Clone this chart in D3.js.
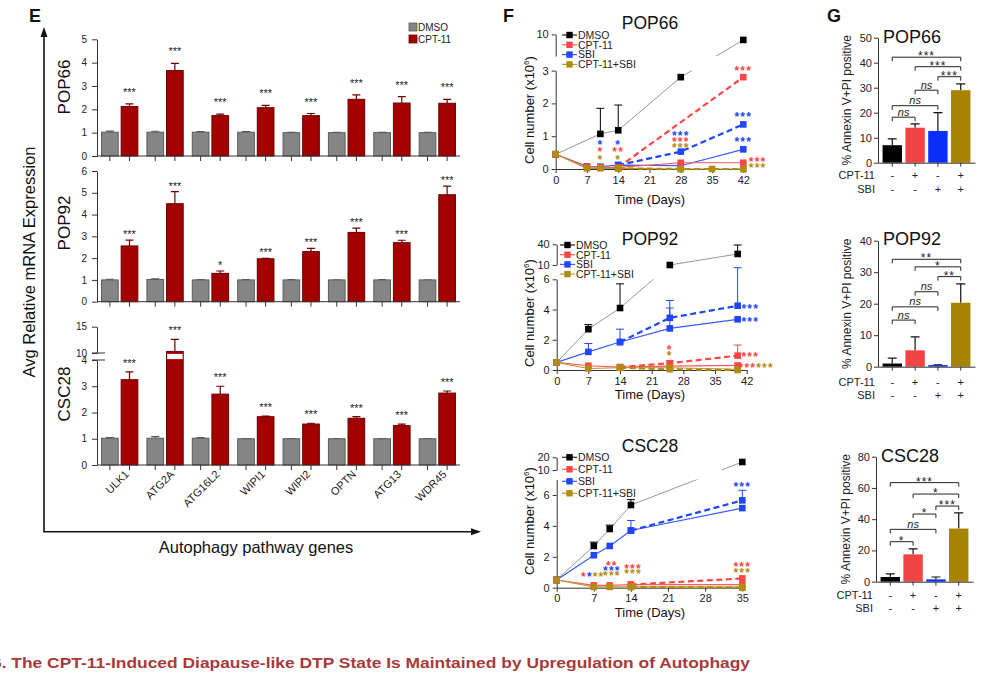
<!DOCTYPE html>
<html><head><meta charset="utf-8">
<script src="https://cdn.jsdelivr.net/npm/d3@7"></script>
<style>body{margin:0;background:#fff}svg{display:block}</style>
</head><body><svg id="c" width="1000" height="676"></svg>
<script>
// ================= DATA =================
// ---- Panel E: Avg relative mRNA expression ----
const genes = ["ULK1","ATG2A","ATG16L2","WIPI1","WIPI2","OPTN","ATG13","WDR45"];
const eGroups = ["DMSO","CPT-11"];
const ePOP66_DMSO     = [1.02,1.02,1.02,1.02,1.0,1.0,1.0,1.0];
const ePOP66_DMSO_err = [1.07,1.06,1.05,1.05,1.01,1.01,1.01,1.01];
const ePOP66_CPT      = [2.12,3.66,1.73,2.07,1.73,2.43,2.27,2.26];
const ePOP66_CPT_err  = [2.23,3.97,1.79,2.17,1.82,2.62,2.54,2.43];
const ePOP66_stars    = ["***","***","***","***","***","***","***","***"];
const ePOP92_DMSO     = [1.0,1.02,1.0,1.0,1.0,1.0,1.0,1.0];
const ePOP92_DMSO_err = [1.03,1.05,1.02,1.01,1.01,1.0,1.01,1.0];
const ePOP92_CPT      = [2.56,4.5,1.3,1.97,2.3,3.18,2.71,4.91];
const ePOP92_CPT_err  = [2.83,5.05,1.41,1.99,2.45,3.38,2.82,5.31];
const ePOP92_stars    = ["***","***","*","***","***","***","***","***"];
const eCSC28_DMSO     = [1.02,1.02,1.02,1.0,1.0,1.0,1.0,1.0];
const eCSC28_DMSO_err = [1.04,1.08,1.04,1.01,1.01,1.01,1.01,1.01];
const eCSC28_CPT      = [3.25,10.3,2.7,1.84,1.56,1.78,1.5,2.74];
const eCSC28_CPT_err  = [3.55,12.6,3.0,1.86,1.59,1.84,1.56,2.82];
const eCSC28_stars    = ["***","***","***","***","***","***","***","***"];

// ---- Panel F: cell number (x10^6) over time ----
const fNames = ["DMSO","CPT-11","SBI","CPT-11+SBI"];
const fPOP66_DMSO   = {days:[0,10,14,28,42], vals:[0.45,1.07,1.18,2.8,8.7], err:[null,1.85,1.95,null,null]};
const fPOP66_CPT    = {days:[0,7,10,14,28,42], vals:[0.45,0.07,0.05,0.05,0.19,0.19]};
const fPOP66_CPT_d  = {days:[14,42], vals:[0.05,2.8]};
const fPOP66_SBI    = {days:[0,7,10,14,28,42], vals:[0.45,0.08,0.07,0.12,0.1,0.6]};
const fPOP66_SBI_d  = {days:[14,28,42], vals:[0.12,0.53,1.36]};
const fPOP66_CS     = {days:[0,7,10,14,28,42], vals:[0.45,0.02,0.02,0.02,0.0,0.0]};
const fPOP66_CS_d   = {days:[14,28,35,42], vals:[0.02,0.0,0.0,0.0]};
const fPOP66_stars  = [
  {day:10,v:0.82,parts:[["*","SBI"]]},{day:10,v:0.61,parts:[["*","CPT-11"]]},{day:10,v:0.37,parts:[["*","CPT-11+SBI"]]},
  {day:14,v:0.82,parts:[["*","SBI"]]},{day:14,v:0.61,parts:[["**","CPT-11"]]},{day:14,v:0.37,parts:[["*","CPT-11+SBI"]]},
  {day:28,v:1.1,parts:[["***","SBI"]]},{day:28,v:0.91,parts:[["***","CPT-11"]]},{day:28,v:0.73,parts:[["***","CPT-11+SBI"]]},
  {day:42,v:3.08,parts:[["***","CPT-11"]]},{day:42,v:1.68,parts:[["***","SBI"]]},{day:42,v:0.91,parts:[["***","SBI"]]},
  {day:45.2,v:0.3,parts:[["***","CPT-11"]]},{day:45.2,v:0.12,parts:[["***","CPT-11+SBI"]]}
];
const fPOP92_DMSO   = {days:[0,7,14,25,40], vals:[0.5,2.7,4.1,10,26], err:[null,3.0,5.7,null,39]};
const fPOP92_CPT    = {days:[0,7,14,25,40], vals:[0.5,0.28,0.19,0.25,0.3]};
const fPOP92_CPT_d  = {days:[14,25,40], vals:[0.19,0.45,0.95], err:[null,0.6,1.65]};
const fPOP92_SBI    = {days:[0,7,14,25,40], vals:[0.5,1.2,1.85,2.75,3.35], err:[null,1.75,2.7,4.1,null]};
const fPOP92_SBI_d  = {days:[14,25,40], vals:[1.85,3.45,4.25], err:[null,4.6,6.05]};
const fPOP92_CS     = {days:[0,7,14,25,40], vals:[0.5,0.1,0.15,0.15,0.05]};
const fPOP92_CS_d   = {days:[14,25,40], vals:[0.15,0.05,0.0]};
const fPOP92_stars  = [
  {day:25,v:1.54,parts:[["*","CPT-11"]]},{day:25,v:1.13,parts:[["*","CPT-11+SBI"]]},
  {day:42.8,v:4.24,parts:[["***","SBI"]]},{day:42.8,v:3.36,parts:[["***","SBI"]]},
  {day:42.8,v:1.06,parts:[["***","CPT-11"]]},{day:44.1,v:0.33,parts:[["***","CPT-11"],["***","CPT-11+SBI"]]}
];
const fCSC28_DMSO   = {days:[0,7,10,14,35], vals:[0.5,2.7,3.8,5.35,16.3], err:[null,2.95,4.05,5.7,null]};
const fCSC28_CPT    = {days:[0,7,10,14,35], vals:[0.5,0.15,0.15,0.2,0.2]};
const fCSC28_CPT_d  = {days:[14,35], vals:[0.2,0.6]};
const fCSC28_SBI    = {days:[0,7,10,14,35], vals:[0.5,2.1,2.7,3.7,5.15], err:[null,null,null,4.35,null]};
const fCSC28_SBI_d  = {days:[14,35], vals:[3.7,5.65], err:[null,6.3]};
const fCSC28_CS     = {days:[0,7,10,14,35], vals:[0.5,0.05,0.05,0.05,0.05]};
const fCSC28_CS_d   = {days:[14,35], vals:[0.05,0.0]};
const fCSC28_stars  = [
  {day:6.8,v:0.88,parts:[["*","CPT-11"],["*","SBI"],["**","CPT-11+SBI"]]},
  {day:10.4,v:1.6,parts:[["**","CPT-11"]]},{day:10.4,v:1.27,parts:[["***","SBI"]]},{day:10.4,v:0.95,parts:[["***","CPT-11+SBI"]]},
  {day:14.4,v:1.4,parts:[["***","CPT-11"]]},{day:14.4,v:1.08,parts:[["***","CPT-11+SBI"]]},
  {day:35,v:6.7,parts:[["***","SBI"]]},{day:35,v:1.53,parts:[["***","CPT-11"]]},{day:35,v:1.17,parts:[["***","CPT-11+SBI"]]}
];

// ---- Panel G: % Annexin V+PI positive ----
const gCPT = ["-","+","-","+"];
const gSBI = ["-","-","+","+"];
const gPOP66_vals = [7,14,12.7,29];
const gPOP66_err  = [9.5,15.5,20,31.5];
const gPOP66_brk  = [[0,3,42.2,"***"],[1,3,38.4,"***"],[2,3,34.4,"***"],[1,2,29,"ns"],[0,2,22.8,"ns"],[0,1,18.2,"ns"]];
const gPOP92_vals = [1,5.2,0.5,20.3];
const gPOP92_err  = [2.7,9.5,0.6,26.3];
const gPOP92_brk  = [[0,3,34.1,"**"],[1,3,31.7,"*"],[2,3,28.6,"**"],[1,2,23.8,"ns"],[0,2,19,"ns"],[0,1,14.8,"ns"]];
const gCSC28_vals = [3,17.5,1.5,34];
const gCSC28_err  = [5,21,3,44];
const gCSC28_brk  = [[0,3,63.4,"***"],[1,3,56.1,"*"],[2,3,48.4,"***"],[1,2,43.3,"*"],[0,2,33.5,"ns"],[0,1,25.6,"*"]];

// ================= DRAWING =================
const FONT = "'Liberation Sans', Arial, Helvetica, sans-serif";
const svg = d3.select("#c").attr("font-family", FONT);
const defs = svg.append("defs");
const fmt = d3.format("~g");
const fColors = {"DMSO":"#000000","CPT-11":"#ff4545","SBI":"#1f45ff","CPT-11+SBI":"#b08d12"};
const fLine   = {"DMSO":"#8a8a8a","CPT-11":"#ff5a5a","SBI":"#3a5cff","CPT-11+SBI":"#b99a30"};
const gColors = ["#000000","#f24444","#0a2df7","#a78300"];

function styleAxis(sel, fs){
  sel.attr("font-family", FONT).attr("font-size", fs);
  sel.selectAll("path.domain").attr("stroke","#333").attr("stroke-width",1);
  sel.selectAll(".tick line").attr("stroke","#333");
  sel.selectAll(".tick text").attr("fill","#222");
}

// ---------- Panel E ----------
svg.append("text").attr("x",29).attr("y",22).attr("font-size",18).attr("font-weight","bold").attr("fill","#111").text("E");
svg.append("path").attr("d","M44,532V34").attr("stroke","#111").attr("stroke-width",1.6);
svg.append("path").attr("d","M44,27L40.5,37L47.5,37Z").attr("fill","#111");
svg.append("path").attr("d","M43.2,531.7H474").attr("stroke","#111").attr("stroke-width",1.6);
svg.append("path").attr("d","M481,531.7L471,528.2L471,535.2Z").attr("fill","#111");
svg.append("text").attr("transform","translate(35,262) rotate(-90)").attr("text-anchor","middle")
  .attr("font-size",16.5).attr("fill","#111").text("Avg Relative mRNA Expression");
svg.append("text").attr("x",256).attr("y",553).attr("text-anchor","middle")
  .attr("font-size",16.5).attr("fill","#111").text("Autophagy pathway genes");
const eLeg = svg.append("g").selectAll("g").data(eGroups).join("g");
eLeg.append("rect").attr("x",409).attr("y",(d,i)=>23+i*12).attr("width",8).attr("height",8)
  .attr("fill",d=>d==="DMSO"?"#858585":"#a30000").attr("stroke",d=>d==="DMSO"?"#5c5c5c":"#6e0000").attr("stroke-width",0.8);
eLeg.append("text").attr("x",418).attr("y",(d,i)=>31+i*12).attr("font-size",10).attr("fill","#222").text(d=>d);

function drawE(cfg){
  const g = svg.append("g");
  const x0 = d3.scaleBand().domain(genes).range([97,460]).paddingInner(0.2).paddingOuter(0.1);
  const x1 = d3.scaleBand().domain(eGroups).range([0,x0.bandwidth()]).paddingInner(0.15);
  const sc = cfg.scales.map(s=>d3.scaleLinear().domain(s.domain).range(s.range));
  const lo = cfg.scales[0].domain[1];
  const y = v => (sc.length===1 || v<=lo) ? sc[0](v) : sc[1](v);
  const base = y(0);
  const rows = [];
  genes.forEach((gn,i)=>{
    rows.push({gene:gn,grp:"DMSO",v:cfg.dmso[i],e:cfg.dmsoErr[i]});
    rows.push({gene:gn,grp:"CPT-11",v:cfg.cpt[i],e:cfg.cptErr[i],star:cfg.stars[i]});
  });
  const cx = d => x0(d.gene)+x1(d.grp)+x1.bandwidth()/2;
  g.selectAll(".eb").data(rows).join("path")
    .attr("d",d=>`M${cx(d)},${y(d.v)}V${y(d.e)}M${cx(d)-4},${y(d.e)}H${cx(d)+4}`)
    .attr("stroke",d=>d.grp==="DMSO"?"#555":"#6e0000").attr("stroke-width",1.2).attr("fill","none");
  g.selectAll(".bar").data(rows).join("rect")
    .attr("x",d=>x0(d.gene)+x1(d.grp)).attr("width",x1.bandwidth())
    .attr("y",d=>y(d.v)).attr("height",d=>base-y(d.v))
    .attr("fill",d=>d.grp==="DMSO"?"#858585":"#a30000")
    .attr("stroke",d=>d.grp==="DMSO"?"#5c5c5c":"#6e0000").attr("stroke-width",1);
  if(sc.length>1){
    const up0 = cfg.scales[1].domain[0];
    g.selectAll(".brk").data(rows.filter(d=>d.v>lo)).join("rect")
      .attr("x",d=>x0(d.gene)+x1(d.grp)+0.6).attr("width",x1.bandwidth()-1.2)
      .attr("y",sc[1](up0)+0.9).attr("height",sc[0](lo)-sc[1](up0)-1.8).attr("fill","#fff");
  }
  sc.forEach((s,k)=>{
    g.append("g").attr("transform","translate(97,0)")
      .call(d3.axisLeft(s).tickValues(cfg.scales[k].ticks).tickFormat(fmt).tickSize(5).tickSizeOuter(0).tickPadding(5))
      .call(a=>styleAxis(a,10));
  });
  if(sc.length>1){
    g.selectAll(".bm").data([sc[1](cfg.scales[1].domain[0]), sc[0](lo)]).join("path")
      .attr("d",d=>`M92,${d}H105`).attr("stroke","#333");
  }
  g.append("path").attr("d",`M97,${base}H460`).attr("stroke","#333");
  g.selectAll(".xt").data(rows).join("path").attr("d",d=>`M${cx(d)},${base}v5`).attr("stroke","#333");
  g.selectAll(".st").data(rows.filter(d=>d.star)).join("text")
    .attr("x",cx).attr("y",d=>y(d.e)-cfg.gap+6).attr("text-anchor","middle")
    .attr("font-size",11).attr("fill","#222").text(d=>d.star);
  g.append("text").attr("transform",`translate(70,${cfg.labelY}) rotate(-90)`).attr("text-anchor","middle")
    .attr("font-size",17).attr("fill","#111").text(cfg.name);
  if(cfg.showGenes){
    g.selectAll(".gl").data(genes).join("text")
      .attr("transform",d=>`translate(${x0(d)+x0.bandwidth()/2+10},${base+10}) rotate(-45)`)
      .attr("text-anchor","end").attr("font-size",11).attr("fill","#222").text(d=>d);
  }
}
drawE({name:"POP66",dmso:ePOP66_DMSO,dmsoErr:ePOP66_DMSO_err,cpt:ePOP66_CPT,cptErr:ePOP66_CPT_err,stars:ePOP66_stars,
  scales:[{domain:[0,5],range:[156,39.3],ticks:[0,1,2,3,4,5]}],labelY:87,gap:14});
drawE({name:"POP92",dmso:ePOP92_DMSO,dmsoErr:ePOP92_DMSO_err,cpt:ePOP92_CPT,cptErr:ePOP92_CPT_err,stars:ePOP92_stars,
  scales:[{domain:[0,6],range:[301.7,171],ticks:[0,1,2,3,4,5,6]}],labelY:223,gap:8});
drawE({name:"CSC28",dmso:eCSC28_DMSO,dmsoErr:eCSC28_DMSO_err,cpt:eCSC28_CPT,cptErr:eCSC28_CPT_err,stars:eCSC28_stars,
  scales:[{domain:[0,4],range:[465,360],ticks:[0,1,2,3,4]},{domain:[10,15],range:[353,326.7],ticks:[10,15]}],labelY:394,gap:11,showGenes:true});

// ---------- Panel F ----------
svg.append("text").attr("x",503).attr("y",22).attr("font-size",18).attr("font-weight","bold").attr("fill","#111").text("F");

function drawF(cfg){
  const g = svg.append("g");
  const x = d3.scaleLinear().domain([0,cfg.xMax]).range(cfg.xRange);
  const yL = d3.scaleLinear().domain(cfg.lowDomain).range(cfg.lowRange);
  const yU = d3.scaleLinear().domain(cfg.upDomain).range(cfg.upRange);
  const y = v => v<=cfg.lowDomain[1] ? yL(v) : yU(v);
  const cid = "clipF"+cfg.title;
  const cp = defs.append("clipPath").attr("id",cid);
  const cx0 = cfg.xRange[0]-15;
  cp.append("rect").attr("x",cx0).attr("y",cfg.upRange[1]-25).attr("width",250).attr("height",cfg.upRange[0]-cfg.upRange[1]+25);
  cp.append("rect").attr("x",cx0).attr("y",cfg.lowRange[1]).attr("width",250).attr("height",cfg.lowRange[0]-cfg.lowRange[1]+15);
  const ax0 = cfg.xRange[0];
  g.append("g").attr("transform",`translate(${ax0},0)`)
    .call(d3.axisLeft(yL).tickValues(cfg.lowTicks).tickFormat(fmt).tickSize(4).tickSizeOuter(0).tickPadding(3)).call(a=>styleAxis(a,11));
  g.append("g").attr("transform",`translate(${ax0},0)`)
    .call(d3.axisLeft(yU).tickValues(cfg.upTicks).tickFormat(fmt).tickSize(4).tickSizeOuter(0).tickPadding(3)).call(a=>styleAxis(a,11));
  g.append("g").attr("transform",`translate(0,${cfg.lowRange[0]})`)
    .call(d3.axisBottom(x).tickValues(cfg.xTicks).tickFormat(fmt).tickSize(4).tickSizeOuter(0).tickPadding(3)).call(a=>styleAxis(a,11));

  const pg = g.append("g").attr("clip-path",`url(#${cid})`);
  const line = d3.line().x(d=>x(d.day)).y(d=>y(d.v));
  const sets = [];
  cfg.series.forEach(s=>{
    [["solid",s.solid],["dashed",s.dashed]].forEach(([kind,ser])=>{
      if(!ser) return;
      sets.push({name:s.name,kind,pts:ser.days.map((d,i)=>({day:d,v:ser.vals[i],e:ser.err?ser.err[i]:null}))});
    });
  });
  pg.selectAll(".ln").data(sets).join("path").attr("d",d=>line(d.pts)).attr("fill","none")
    .attr("stroke",d=>d.kind==="solid"?fLine[d.name]:fColors[d.name])
    .attr("stroke-width",d=>d.kind==="solid"?(d.name==="DMSO"?0.9:1.2):2.2)
    .attr("stroke-dasharray",d=>d.kind==="dashed"?"6,3.5":null);
  const pts = sets.flatMap(s=>s.pts.map(p=>({...p,name:s.name})));
  const mg = g.append("g");
  mg.selectAll(".er").data(pts.filter(p=>p.e!=null)).join("path")
    .attr("d",p=>`M${x(p.day)},${y(p.v)}V${y(p.e)}M${x(p.day)-4},${y(p.e)}H${x(p.day)+4}`)
    .attr("stroke",p=>fColors[p.name]).attr("stroke-width",1).attr("fill","none");
  mg.selectAll(".mk").data(pts).join("rect")
    .attr("x",p=>x(p.day)-3.3).attr("y",p=>y(p.v)-3.3).attr("width",6.6).attr("height",6.6)
    .attr("fill",p=>fColors[p.name]);
  cfg.stars.forEach(st=>{
    const t = g.append("text").attr("x",x(st.day)).attr("y",yL(st.v)+7).attr("text-anchor","middle")
      .attr("font-size",12).attr("font-weight","bold").attr("letter-spacing",1.2);
    st.parts.forEach(([txt,nm])=>t.append("tspan").attr("fill",fColors[nm]).text(txt));
  });
  const lg = g.append("g").selectAll("g").data(fNames).join("g")
    .attr("transform",(d,i)=>`translate(${cfg.legendX},${cfg.legendY+i*cfg.legendStep})`);
  lg.append("path").attr("d","M0,0H15").attr("stroke",d=>d==="DMSO"?"#222":fLine[d]).attr("stroke-width",1.2);
  lg.append("rect").attr("x",4.3).attr("y",-3.2).attr("width",6.4).attr("height",6.4).attr("fill",d=>fColors[d]);
  lg.append("text").attr("x",16).attr("y",3.8).attr("font-size",10.5).attr("fill","#222").text(d=>d);
  g.append("text").attr("x",650).attr("y",cfg.titleY).attr("text-anchor","middle").attr("font-size",17.5).attr("fill","#111").text(cfg.title);
  const yl = g.append("text").attr("transform",`translate(534,${cfg.yLabelY}) rotate(-90)`).attr("text-anchor","middle")
    .attr("font-size",13).attr("fill","#111");
  yl.append("tspan").text("Cell number (x10");
  yl.append("tspan").attr("font-size",8).attr("dy",-5).text("6");
  yl.append("tspan").attr("dy",5).text(")");
  g.append("text").attr("x",650).attr("y",cfg.xLabelY).attr("text-anchor","middle").attr("font-size",13).attr("fill","#111").text("Time (Days)");
}

drawF({title:"POP66",titleY:29,xMax:42,xRange:[555.7,743.3],xTicks:[0,7,14,21,28,35,42],
  lowDomain:[0,3],lowRange:[169,70.6],lowTicks:[0,1,2,3],upDomain:[5,10],upRange:[56,34.3],upTicks:[10],
  legendX:562,legendY:35,legendStep:9.8,yLabelY:110,xLabelY:204,
  series:[{name:"DMSO",solid:fPOP66_DMSO},{name:"SBI",solid:fPOP66_SBI,dashed:fPOP66_SBI_d},
          {name:"CPT-11",solid:fPOP66_CPT,dashed:fPOP66_CPT_d},{name:"CPT-11+SBI",solid:fPOP66_CS,dashed:fPOP66_CS_d}],
  stars:fPOP66_stars});
drawF({title:"POP92",titleY:245,xMax:42,xRange:[556.7,746.7],xTicks:[0,7,14,21,28,35,42],
  lowDomain:[0,6],lowRange:[370,279.3],lowTicks:[0,2,4,6],upDomain:[10,40],upRange:[265,244.3],upTicks:[10,40],
  legendX:560,legendY:245,legendStep:9.7,yLabelY:313,xLabelY:399,
  series:[{name:"DMSO",solid:fPOP92_DMSO},{name:"SBI",solid:fPOP92_SBI,dashed:fPOP92_SBI_d},
          {name:"CPT-11",solid:fPOP92_CPT,dashed:fPOP92_CPT_d},{name:"CPT-11+SBI",solid:fPOP92_CS,dashed:fPOP92_CS_d}],
  stars:fPOP92_stars});
drawF({title:"CSC28",titleY:452,xMax:35,xRange:[556.7,742.3],xTicks:[0,7,14,21,28,35],
  lowDomain:[0,7],lowRange:[587.7,479.5],lowTicks:[0,2,4,6],upDomain:[10,20],upRange:[470,457.3],upTicks:[10,20],
  legendX:562,legendY:457.3,legendStep:12,yLabelY:521,xLabelY:617,
  series:[{name:"DMSO",solid:fCSC28_DMSO},{name:"SBI",solid:fCSC28_SBI,dashed:fCSC28_SBI_d},
          {name:"CPT-11",solid:fCSC28_CPT,dashed:fCSC28_CPT_d},{name:"CPT-11+SBI",solid:fCSC28_CS,dashed:fCSC28_CS_d}],
  stars:fCSC28_stars});

// ---------- Panel G ----------
svg.append("text").attr("x",827).attr("y",22).attr("font-size",18).attr("font-weight","bold").attr("fill","#111").text("G");

function drawG(cfg){
  const g = svg.append("g");
  const x = d3.scaleBand().domain(d3.range(4)).range([cfg.axisX,cfg.axisX+97]).paddingInner(0.15).paddingOuter(0.2);
  const y = d3.scaleLinear().domain([0,cfg.max]).range([cfg.y0,cfg.yTop]);
  const c = i => x(i)+x.bandwidth()/2;
  const rows = cfg.vals.map((v,i)=>({i,v,e:cfg.err[i]}));
  g.selectAll(".eb").data(rows).join("path")
    .attr("d",d=>`M${c(d.i)},${y(d.v)}V${y(d.e)}M${c(d.i)-4.5},${y(d.e)}H${c(d.i)+4.5}`)
    .attr("stroke","#111").attr("stroke-width",1.2).attr("fill","none");
  g.selectAll(".bar").data(rows).join("rect")
    .attr("x",d=>x(d.i)).attr("width",x.bandwidth()).attr("y",d=>y(d.v)).attr("height",d=>cfg.y0-y(d.v))
    .attr("fill",d=>gColors[d.i]);
  g.append("g").attr("transform",`translate(${cfg.axisX},0)`)
    .call(d3.axisLeft(y).tickValues(cfg.ticks).tickFormat(fmt).tickSize(4).tickSizeOuter(0).tickPadding(2)).call(a=>styleAxis(a,11));
  g.append("g").attr("transform",`translate(0,${cfg.y0})`)
    .call(d3.axisBottom(x).tickSize(4).tickSizeOuter(0).tickFormat("")).call(a=>styleAxis(a,11));
  const br = g.selectAll(".br").data(cfg.brk).join("g");
  br.append("path").attr("d",d=>`M${c(d[0])},${y(d[2])+4}V${y(d[2])}H${c(d[1])}V${y(d[2])+4}`)
    .attr("stroke","#222").attr("fill","none").attr("stroke-width",1);
  br.append("text").attr("x",d=>(c(d[0])+c(d[1]))/2)
    .attr("y",d=>d[3]==="ns"?y(d[2])-1.5:y(d[2])+3)
    .attr("text-anchor","middle").attr("fill","#222")
    .attr("font-size",d=>d[3]==="ns"?11:12).attr("font-style",d=>d[3]==="ns"?"italic":"normal")
    .attr("letter-spacing",d=>d[3]==="ns"?0:1).text(d=>d[3]);
  [["CPT-11",gCPT],["SBI",gSBI]].forEach(([lab,arr],k)=>{
    const yy = cfg.rowY[k];
    g.append("text").attr("x",cfg.axisX-3).attr("y",yy).attr("text-anchor","end").attr("font-size",11).attr("fill","#222").text(lab);
    g.selectAll(null).data(arr).join("text").attr("x",(d,i)=>c(i)).attr("y",yy).attr("text-anchor","middle")
      .attr("font-size",11).attr("fill","#222").text(d=>d);
  });
  g.append("text").attr("x",cfg.titleX).attr("y",cfg.titleY).attr("text-anchor","middle").attr("font-size",18).attr("fill","#111").text(cfg.title);
  g.append("text").attr("transform",`translate(${cfg.yLabelX},${(cfg.y0+cfg.yTop)/2}) rotate(-90)`).attr("text-anchor","middle")
    .attr("font-size",12).attr("fill","#222").text("% Annexin V+PI positive");
}
drawG({title:"POP66",axisX:878,y0:162.7,yTop:37.7,max:50,ticks:[0,10,20,30,40,50],vals:gPOP66_vals,err:gPOP66_err,brk:gPOP66_brk,
  titleX:912,titleY:43,rowY:[179,193],yLabelX:851});
drawG({title:"POP92",axisX:878,y0:366.7,yTop:240.7,max:40,ticks:[0,10,20,30,40],vals:gPOP92_vals,err:gPOP92_err,brk:gPOP92_brk,
  titleX:912,titleY:245,rowY:[386,399],yLabelX:851});
drawG({title:"CSC28",axisX:876,y0:581.7,yTop:456.7,max:80,ticks:[0,20,40,60,80],vals:gCSC28_vals,err:gCSC28_err,brk:gCSC28_brk,
  titleX:910,titleY:462,rowY:[599,612],yLabelX:850});

// ---------- Caption ----------
svg.append("text").attr("x",-8).attr("y",668).attr("font-family","'Liberation Sans Narrow','Arial Narrow',"+FONT)
  .attr("font-weight","bold").attr("font-size",15).attr("fill","#a83a3a")
  .attr("textLength",758).attr("lengthAdjust","spacingAndGlyphs")
  .text("6. The CPT-11-Induced Diapause-like DTP State Is Maintained by Upregulation of Autophagy");
</script></body></html>
